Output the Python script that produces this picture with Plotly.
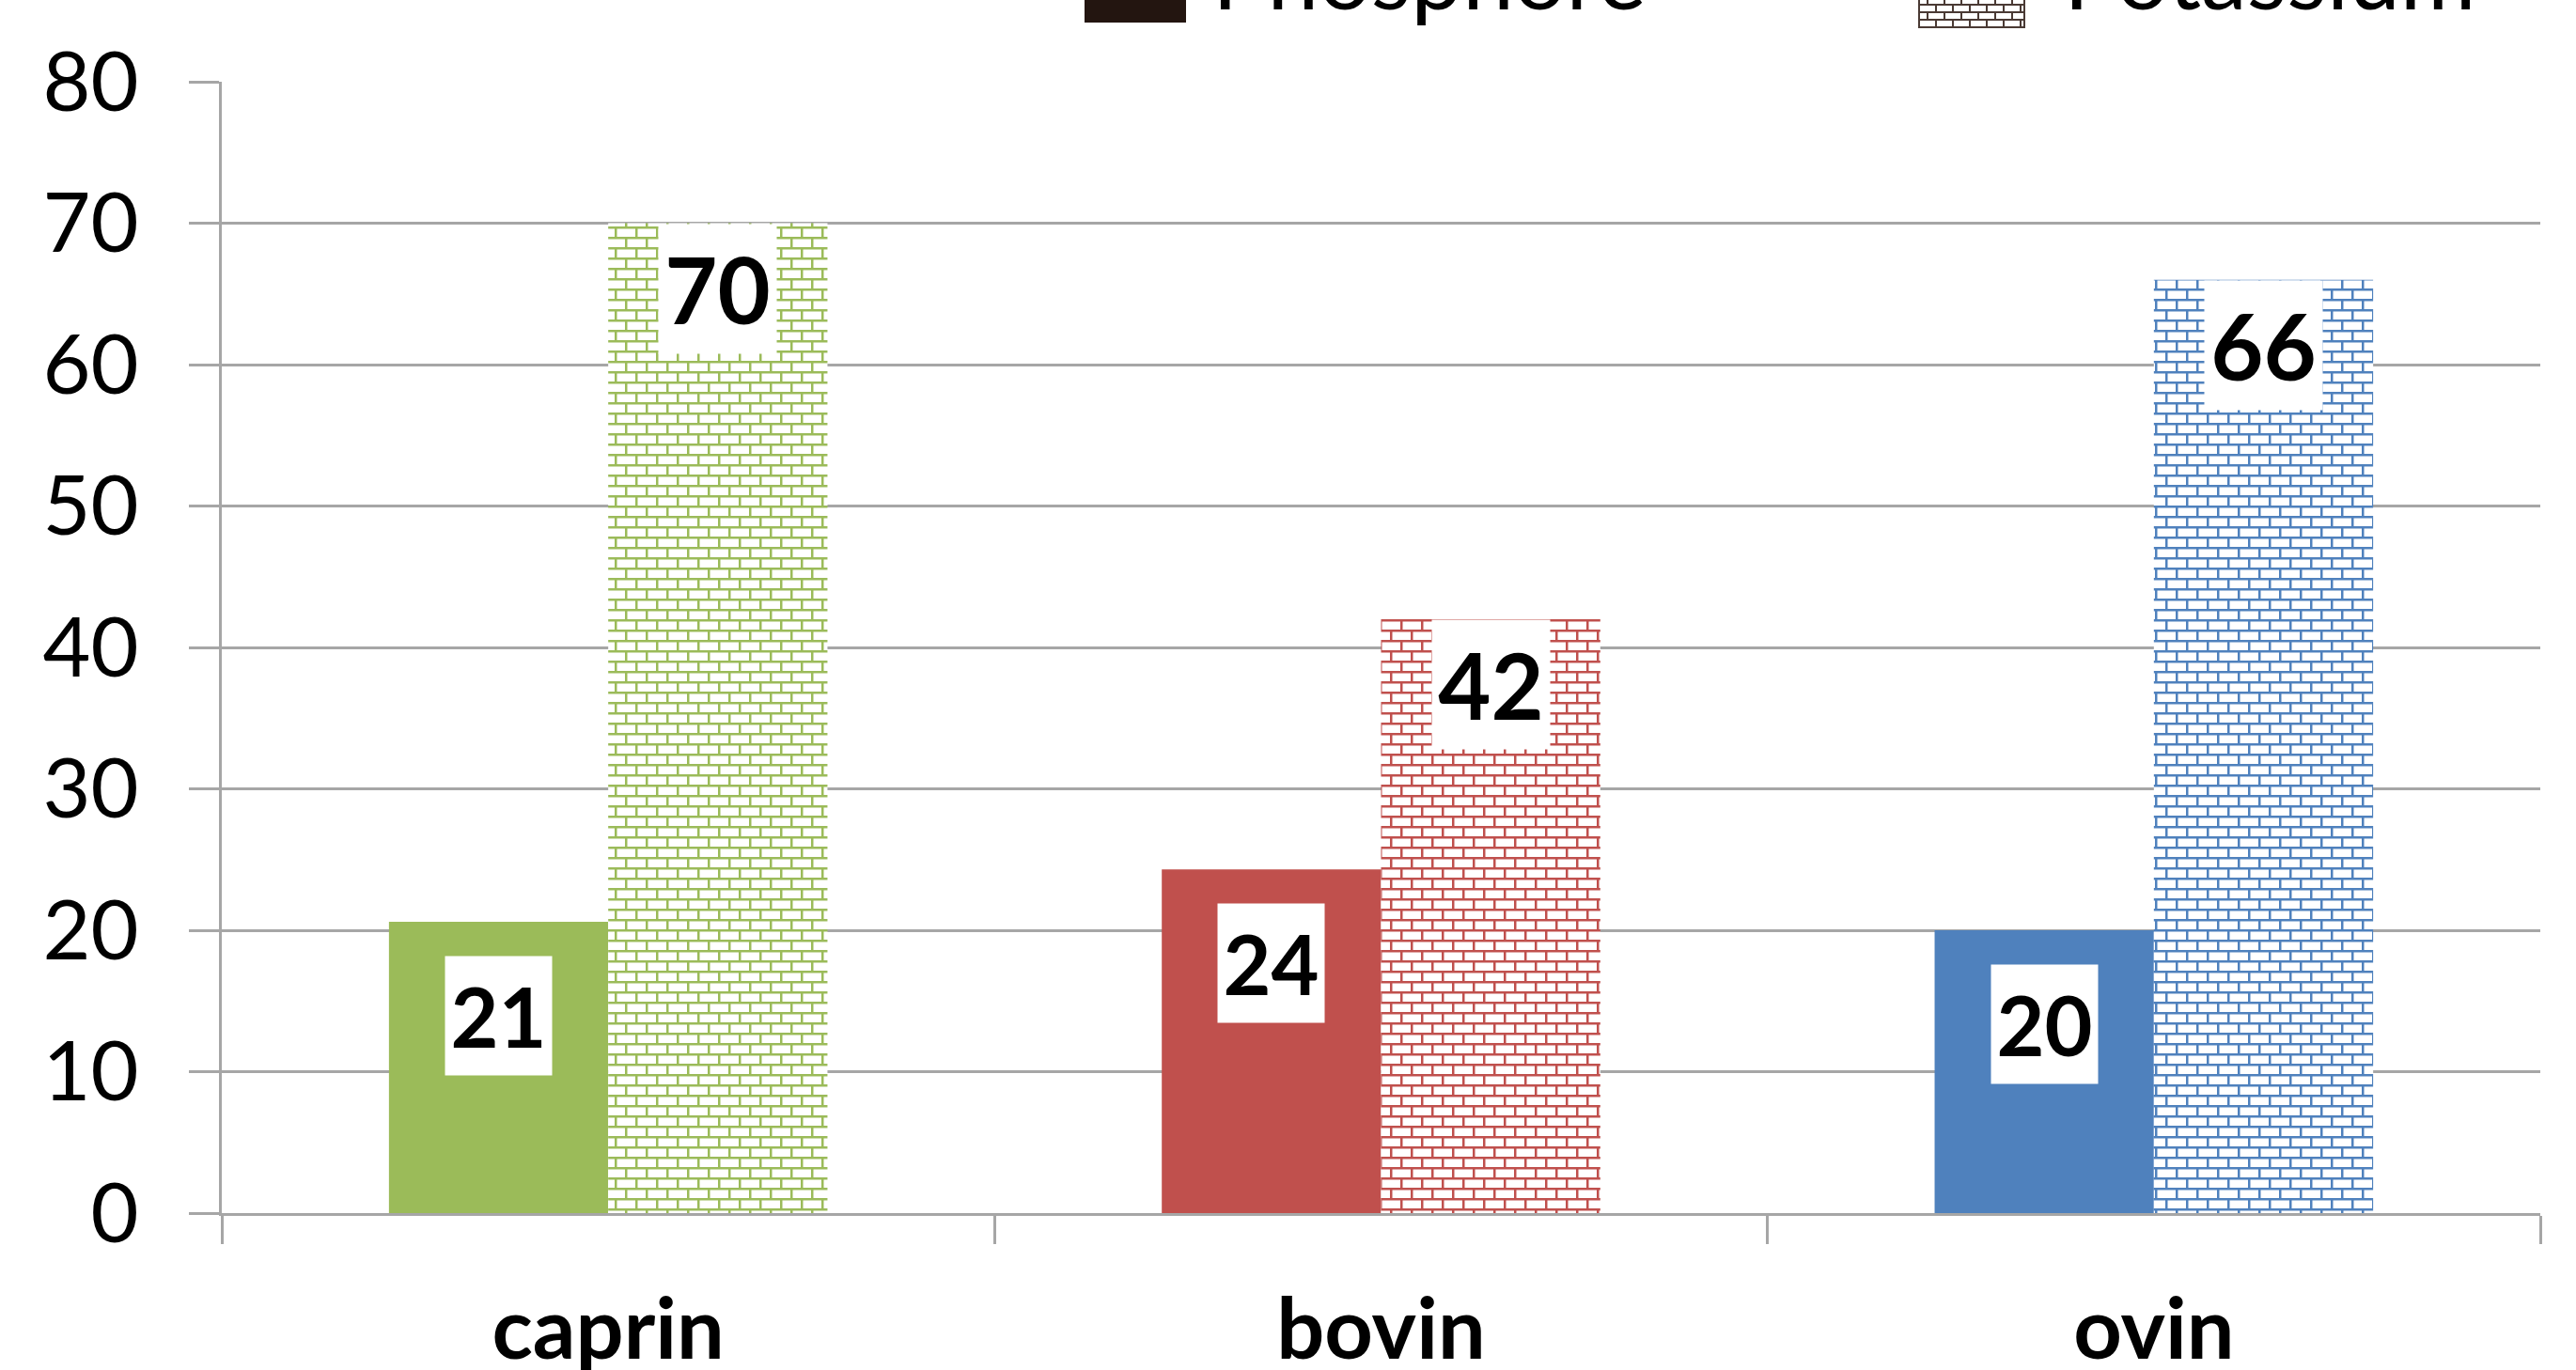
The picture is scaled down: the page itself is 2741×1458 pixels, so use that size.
import plotly.graph_objects as go

# ---- data -------------------------------------------------------------
categories = ["caprin", "bovin", "ovin"]
series_names = ["Phosphore", "Potassium"]
phosphore = [20.6, 24.3, 20.0]
potassium = [70.0, 42.0, 66.0]
bar_colors = ["#9BBB59", "#C0504D", "#4F81BD"]
y_ticks = [0, 10, 20, 30, 40, 50, 60, 70, 80]

# ---- page geometry ------------------------------------------------------
W, H = 2741, 1458
L, R, T, B = 236, 38, 87, 167
PLOT_W = W - L - R
PLOT_H = H - T - B
BARGAP = 0.4326
FONT = "Lato"
GRID = "#A6A6A6"


def px_x(x):
    """page pixel column -> paper x"""
    return (x - L) / PLOT_W


def px_y(y):
    """page pixel row -> paper y"""
    return (H - B - y) / PLOT_H


fig = go.Figure()

fig.add_trace(go.Bar(
    name=series_names[0], x=categories, y=phosphore,
    marker=dict(color=bar_colors, line=dict(width=0)),
    showlegend=False, hoverinfo="x+y",
))
fig.add_trace(go.Bar(
    name=series_names[1], x=categories, y=potassium,
    marker=dict(
        color="white", line=dict(width=0),
        pattern=dict(shape="+", fgcolor=bar_colors, bgcolor="white",
                     size=22, solidity=0.15),
    ),
    showlegend=False, hoverinfo="x+y",
))

# ---- value labels on white boxes ---------------------------------------
bar_w = (1 - BARGAP) / 2
annotations = []
for i, v in enumerate(phosphore):
    annotations.append(dict(
        x=i - bar_w / 2, y=v, xref="x", yref="y", text=f"{v:.0f}",
        showarrow=False, yanchor="top", yshift=-36,
        width=113, height=126, bgcolor="white", borderpad=0,
        font=dict(family=FONT, size=88, color="black", weight="bold"),
    ))
for i, v in enumerate(potassium):
    annotations.append(dict(
        x=i + bar_w / 2, y=v, xref="x", yref="y", text=f"{v:.0f}",
        showarrow=False, yanchor="top", yshift=0,
        width=125, height=137, bgcolor="white", borderpad=0,
        font=dict(family=FONT, size=97, color="black", weight="bold"),
    ))

# ---- legend (sits at the very top of the page) -------------------------
shapes = []
shapes.append(dict(type="rect", xref="paper", yref="paper",
                   x0=px_x(1154), x1=px_x(1262), y0=px_y(24), y1=px_y(-90),
                   fillcolor="#231510", line=dict(width=0)))
sw_x0, sw_x1, sw_bottom, sw_top = 2042, 2154, 29, -90
shapes.append(dict(type="rect", xref="paper", yref="paper",
                   x0=px_x(sw_x0), x1=px_x(sw_x1), y0=px_y(sw_bottom), y1=px_y(sw_top),
                   fillcolor="white", line=dict(color="#4A3A34", width=2)))
row_h, brick_w = 8, 18
segs = []
row = 0
yb = sw_bottom
while yb - row_h > sw_top:
    yt = yb - row_h
    segs.append(f"M{px_x(sw_x0)},{px_y(yt)}L{px_x(sw_x1)},{px_y(yt)}")
    xv = sw_x0 + (brick_w / 2 if row % 2 else brick_w)
    while xv < sw_x1:
        segs.append(f"M{px_x(xv)},{px_y(yb)}L{px_x(xv)},{px_y(yt)}")
        xv += brick_w
    yb = yt
    row += 1
shapes.append(dict(type="path", xref="paper", yref="paper", path="".join(segs),
                   line=dict(color="#4A3A34", width=2)))

annotations.append(dict(x=px_x(1288), y=px_y(33), xref="paper", yref="paper",
                        text=series_names[0], showarrow=False, xanchor="left",
                        yanchor="bottom", font=dict(family=FONT, size=98, color="black")))
annotations.append(dict(x=px_x(2194), y=px_y(33), xref="paper", yref="paper",
                        text=series_names[1], showarrow=False, xanchor="left",
                        yanchor="bottom", font=dict(family=FONT, size=98, color="black")))

fig.update_layout(
    width=W, height=H,
    margin=dict(l=L, r=R, t=T, b=B, autoexpand=False),
    paper_bgcolor="white", plot_bgcolor="white",
    barmode="group", bargap=BARGAP, bargroupgap=0,
    showlegend=False,
    annotations=annotations, shapes=shapes,
    font=dict(family=FONT, color="black"),
)
fig.update_yaxes(
    range=[0, 80], tickvals=y_ticks, ticktext=[str(t) for t in y_ticks],
    showgrid=True, gridcolor=GRID, gridwidth=2.5,
    showline=True, linecolor=GRID, linewidth=2.5,
    ticks="outside", ticklen=32, tickcolor=GRID, tickwidth=2.5,
    ticklabelstandoff=36,
    tickfont=dict(family=FONT, size=88, color="black"),
    zeroline=False, fixedrange=True,
)
fig.update_xaxes(
    showline=True, linecolor=GRID, linewidth=2.5,
    ticks="outside", ticklen=30, tickcolor=GRID, tickwidth=2.5,
    tickson="boundaries", ticklabelstandoff=44,
    tickfont=dict(family=FONT, size=90, color="black", weight="bold"),
    showgrid=False, fixedrange=True,
)

# Swap the built-in grid pattern for a brick-wall tile on the patterned bars.
brick_js = """
(function(){
  var gd = document.getElementById('{plot_id}');
  var ns = 'http://www.w3.org/2000/svg';
  function brick(){
    gd.querySelectorAll('pattern').forEach(function(p){
      if (p.getAttribute('data-brick')) return;
      var path = p.querySelector('path');
      if (!path) return;
      var col = path.style.stroke || path.getAttribute('stroke') || path.style.fill || '#000';
      while (p.firstChild) p.removeChild(p.firstChild);
      p.setAttribute('width', 22); p.setAttribute('height', 22);
      p.removeAttribute('patternTransform');
      var r = document.createElementNS(ns, 'rect');
      r.setAttribute('width', 22); r.setAttribute('height', 22);
      r.setAttribute('fill', '#ffffff');
      p.appendChild(r);
      var q = document.createElementNS(ns, 'path');
      q.setAttribute('d', 'M0,1.25H22M0,12.25H22M1.25,1.25V12.25M12.25,12.25V22M12.25,0V1.25');
      q.setAttribute('stroke', col);
      q.setAttribute('stroke-width', 2.5);
      q.setAttribute('fill', 'none');
      p.appendChild(q);
      p.setAttribute('data-brick', '1');
    });
  }
  brick();
  gd.on('plotly_afterplot', brick);
})();
"""

fig.write_html("out.html", config={"responsive": False, "displayModeBar": False},
               post_script=brick_js)
